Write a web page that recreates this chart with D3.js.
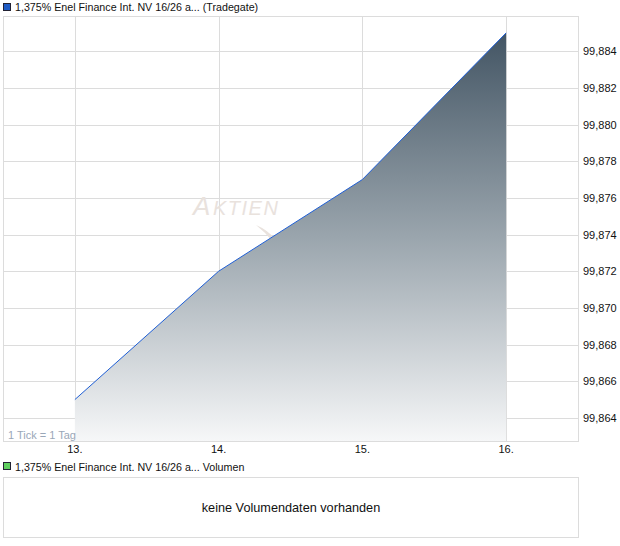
<!DOCTYPE html>
<html><head><meta charset="utf-8">
<script src="https://cdn.jsdelivr.net/npm/d3@7"></script>
<style>body{margin:0;background:#fff;}svg{display:block;font-family:"Liberation Sans",Arial,sans-serif;}</style>
</head><body>
<svg id="c" width="620" height="546"></svg>
<script>
const days = [13, 14, 15, 16];
const dayLabels = ["13.", "14.", "15.", "16."];
const prices = [99.865, 99.872, 99.877, 99.885];
const yTicks = [99.864, 99.866, 99.868, 99.870, 99.872, 99.874, 99.876, 99.878, 99.880, 99.882, 99.884];
const title = "1,375% Enel Finance Int. NV 16/26 a... (Tradegate)";
const volTitle = "1,375% Enel Finance Int. NV 16/26 a... Volumen";
const noVol = "keine Volumendaten vorhanden";

const svg = d3.select("#c");
const L = 3, R = 578, T = 16, B = 441;
const x = d3.scaleLinear().domain([12.5, 16.5]).range([L, R]);
const y = d3.scaleLinear().domain([99.86274, 99.88592]).range([B, T]);
const fmt = v => d3.format(".3f")(v).replace(".", ",");

const defs = svg.append("defs");
const g = defs.append("linearGradient").attr("id","ag").attr("x1",0).attr("y1",0).attr("x2",0).attr("y2",1);
g.append("stop").attr("offset","0%").attr("stop-color","#435564");
g.append("stop").attr("offset","50%").attr("stop-color","#9aa5ad");
g.append("stop").attr("offset","100%").attr("stop-color","#f6f7f8");

// legend
svg.append("rect").attr("x",3.5).attr("y",3.5).attr("width",7).attr("height",7).attr("fill","#1f5bc4").attr("stroke","#223").attr("stroke-width",1);
svg.append("text").attr("x",15).attr("y",11).attr("font-size",10.7).attr("fill","#111").text(title);

// grid
svg.append("g").selectAll("line").data(yTicks).join("line")
  .attr("x1",L).attr("x2",R).attr("y1",d=>Math.round(y(d))+0.5).attr("y2",d=>Math.round(y(d))+0.5)
  .attr("stroke","#dcdcdc");
svg.append("g").selectAll("line").data(days).join("line")
  .attr("x1",d=>Math.round(x(d))+0.5).attr("x2",d=>Math.round(x(d))+0.5).attr("y1",T).attr("y2",B)
  .attr("stroke","#dcdcdc");
svg.append("rect").attr("x",L+0.5).attr("y",T+0.5).attr("width",R-L).attr("height",B-T).attr("fill","none").attr("stroke","#dcdcdc");

// watermark
const wm = svg.append("g").attr("fill","#e9e2dd");
wm.append("text").attr("x",193).attr("y",215).attr("font-size",26).attr("font-style","italic").attr("letter-spacing",1)
  .text("A");
wm.append("text").attr("x",213).attr("y",215).attr("font-size",20).attr("font-style","italic").attr("letter-spacing",1.5)
  .text("KTIEN");
wm.append("path").attr("d","M256,225 Q268,230 276,240 L272,241 Q265,232 256,225 Z");

// area + line
const data = days.map((d,i)=>({d, v:prices[i]}));
svg.append("path").datum(data)
  .attr("d", d3.area().x(p=>x(p.d)).y0(B).y1(p=>y(p.v)))
  .attr("fill","url(#ag)");
svg.append("path").datum(data)
  .attr("d", d3.line().x(p=>x(p.d)).y(p=>y(p.v)))
  .attr("fill","none").attr("stroke","#1f5fd6").attr("stroke-width",1);

// y labels
svg.append("g").selectAll("text").data(yTicks).join("text")
  .attr("x",583).attr("y",d=>y(d)+4).attr("font-size",11).attr("fill","#111").text(fmt);
// x labels
svg.append("g").selectAll("text").data(days).join("text")
  .attr("x",d=>x(d)).attr("y",453).attr("text-anchor","middle").attr("font-size",11).attr("fill","#111")
  .text((d,i)=>dayLabels[i]);

svg.append("text").attr("x",8).attr("y",439).attr("font-size",11).attr("fill","#9aa7b8").text("1 Tick = 1 Tag");

// volume panel
svg.append("rect").attr("x",3.5).attr("y",462.5).attr("width",7).attr("height",7).attr("fill","#5fcf5f").attr("stroke","#223");
svg.append("text").attr("x",15).attr("y",471).attr("font-size",10.7).attr("fill","#111").text(volTitle);
svg.append("rect").attr("x",L+0.5).attr("y",477.5).attr("width",R-L).attr("height",60).attr("fill","none").attr("stroke","#dcdcdc");
svg.append("text").attr("x",(L+R)/2+0.5).attr("y",512).attr("text-anchor","middle").attr("font-size",12.7).attr("fill","#111").text(noVol);
</script>
</body></html>
